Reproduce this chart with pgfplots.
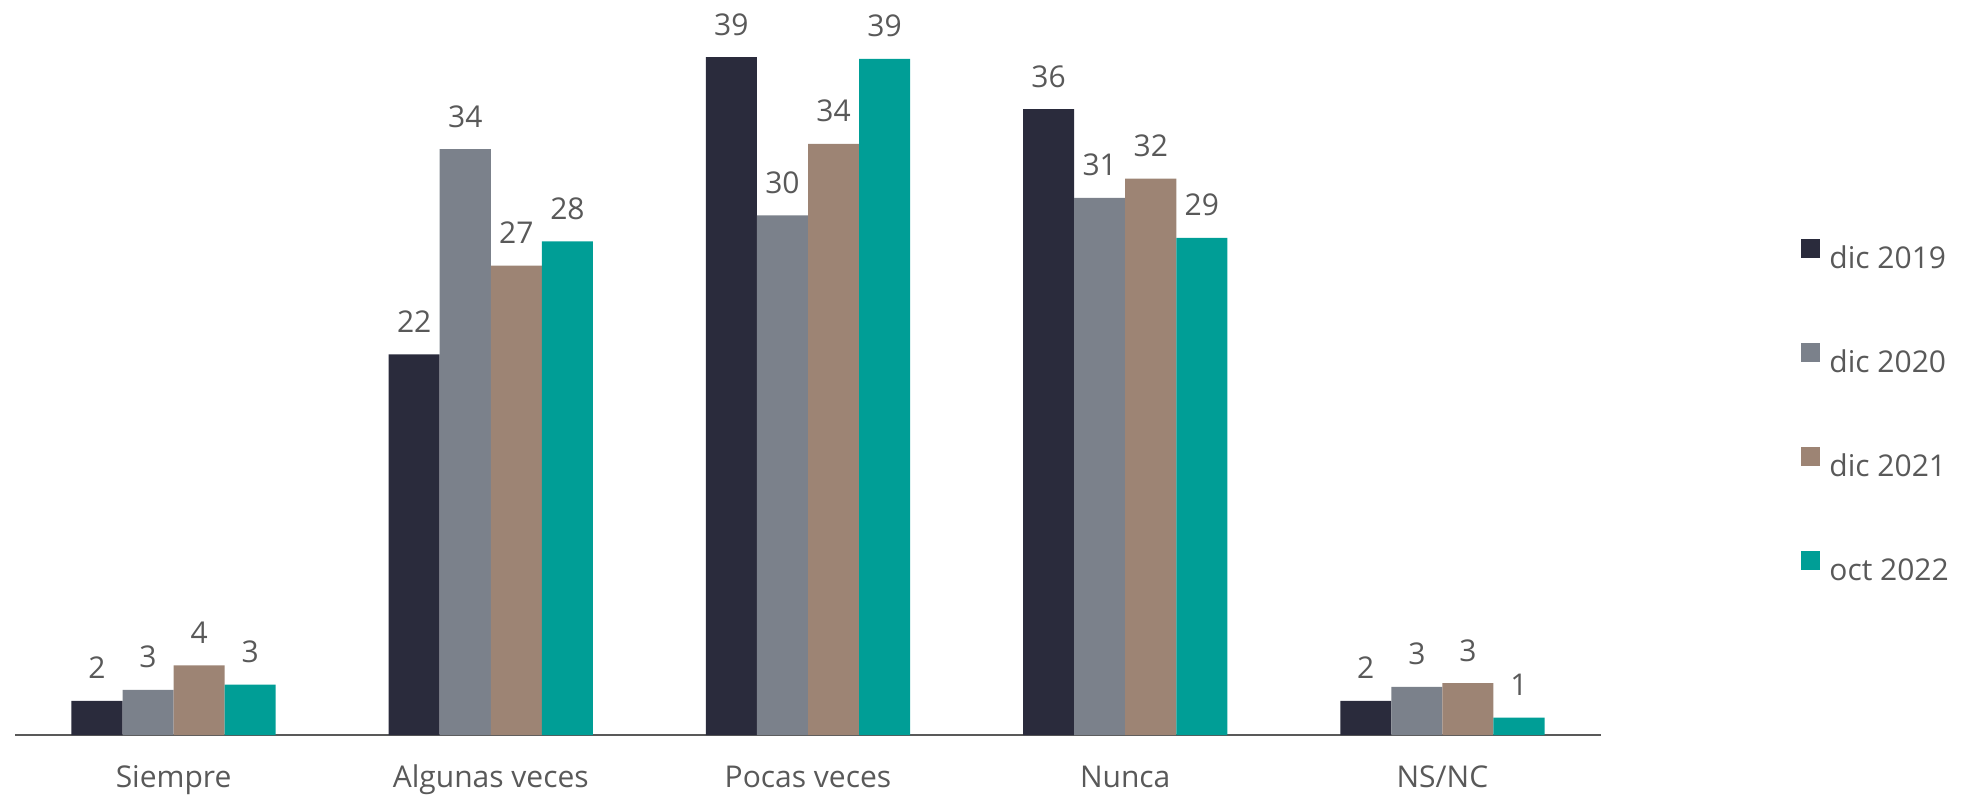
\documentclass[border=0pt]{standalone}
\usepackage{pgfplots}
\pgfplotsset{compat=1.18}
\usepackage{fontspec}
\setmainfont{Open Sans}

\definecolor{cA}{HTML}{2A2B3C}
\definecolor{cB}{HTML}{7B818B}
\definecolor{cC}{HTML}{9D8474}
\definecolor{cD}{HTML}{009E96}
\definecolor{txt}{HTML}{595959}

\newcommand{\lbl}{\fontsize{15}{18}\selectfont}

\begin{document}
\begin{tikzpicture}
  \begin{axis}[
    scale only axis,
    width=793pt, height=352pt,
    ybar=0pt,
    bar width=0.161,
    xmin=-0.5, xmax=4.5,
    ymin=0, ymax=40.5,
    axis y line=none,
    axis x line*=bottom,
    x axis line style={-, draw=txt, line width=1pt},
    major tick length=0pt,
    xtick=data,
    xticklabels={Siempre, Algunas veces, Pocas veces, Nunca, NS/NC},
    xticklabel style={font=\lbl, text=txt, anchor=base, inner sep=0pt, yshift=-26pt},
    clip=false,
    nodes near coords={\pgfmathprintnumber[fixed,precision=0,assume math mode=true]{\pgfplotspointmeta}},
    every node near coord/.append style={font=\lbl, text=txt, anchor=base, inner sep=0pt, yshift=11pt},
    legend style={
      draw=none, fill=none, inner sep=0pt,
      at={(rel axis cs:1,0.462)}, anchor=west, xshift=100pt,
      font=\lbl, text=txt,
      row sep=37.5pt,
      nodes={inner sep=0pt, text height=10pt, text depth=0pt},
      /tikz/every odd column/.append style={column sep=4.5pt},
    },
    legend cell align=left,
    legend image code/.code={\fill[#1] (0pt,0pt) rectangle (9.5pt,9.5pt);},
  ]
  \addplot[fill=cA, draw=none, bar shift=-0.2415] coordinates {(0,1.97) (1,21.9) (2,39.0) (3,36.0) (4,1.97)};
  \addplot[fill=cB, draw=none, bar shift=-0.0805] coordinates {(0,2.6) (1,33.7) (2,29.9) (3,30.9) (4,2.77)};
  \addplot[fill=cC, draw=none, bar shift=0.0805] coordinates {(0,4.0) (1,27.0) (2,34.0) (3,32.0) (4,2.99)};
  \addplot[fill=cD, draw=none, bar shift=0.2415] coordinates {(0,2.9) (1,28.4) (2,38.9) (3,28.6) (4,1.0)};
  \legend{dic 2019, dic 2020, dic 2021, oct 2022}
  \path (rel axis cs:0,0) ++(-7.5pt,-31.5pt);
  \path (rel axis cs:1,1) ++(190.5pt,15.5pt);
  \end{axis}
\end{tikzpicture}
\end{document}
